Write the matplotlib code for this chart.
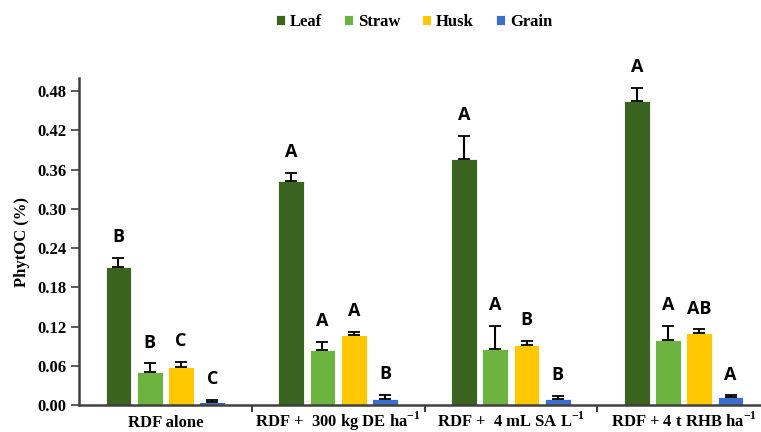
import matplotlib
matplotlib.use("Agg")
import matplotlib.pyplot as plt
import numpy as np

plt.rcParams['mathtext.fontset'] = 'custom'
plt.rcParams['mathtext.rm'] = 'Liberation Serif:bold'
plt.rcParams['mathtext.bf'] = 'Liberation Serif:bold'

categories = ['RDF alone',
              r'RDF +  300 kg DE ha$^{\mathbf{-1}}$',
              r'RDF +  4 mL SA L$^{\mathbf{-1}}$',
              r'RDF + 4 t RHB ha$^{\mathbf{-1}}$']
series = ['Leaf', 'Straw', 'Husk', 'Grain']
leaf = [0.212, 0.343, 0.376, 0.465]
straw = [0.051, 0.085, 0.086, 0.100]
husk = [0.059, 0.107, 0.092, 0.110]
grain = [0.005, 0.009, 0.010, 0.012]
leaf_err = [0.013, 0.012, 0.035, 0.020]
straw_err = [0.013, 0.012, 0.035, 0.021]
husk_err = [0.007, 0.005, 0.006, 0.006]
grain_err = [0.003, 0.007, 0.004, 0.003]
leaf_lab = ['B', 'A', 'A', 'A']
straw_lab = ['B', 'A', 'A', 'A']
husk_lab = ['C', 'A', 'B', 'AB']
grain_lab = ['C', 'B', 'B', 'A']
yticks = [0.00, 0.06, 0.12, 0.18, 0.24, 0.30, 0.36, 0.42, 0.48]

colors = ['#3B6320', '#6DB33F', '#FFC800', '#3A6FD0']
values = [leaf, straw, husk, grain]
errs = [leaf_err, straw_err, husk_err, grain_err]
labs = [leaf_lab, straw_lab, husk_lab, grain_lab]

W, H = 761, 432
fig = plt.figure(figsize=(W/100, H/100), dpi=100)
ax = fig.add_axes([79/W, (H-405.3)/H, (770-79)/W, (405.3-78)/H])

x = np.arange(len(categories))
spacing = 0.181
width = 0.148
offsets = (np.arange(4) - 1.5) * spacing
for i in range(4):
    xs = x + offsets[i]
    ax.bar(xs, values[i], width=width, color=colors[i], edgecolor='white',
           linewidth=0.6, label=series[i], zorder=2)
    ax.errorbar(xs, values[i], yerr=[np.zeros(4), errs[i]], fmt='none',
                ecolor='black', elinewidth=1.5, capsize=4, capthick=1.3, zorder=3)
    for j in range(4):
        top = values[i][j] + errs[i][j]
        ax.annotate(labs[i][j], (xs[j], top), xytext=(0, 15), textcoords='offset points',
                    ha='center', va='center', fontsize=13, fontweight='bold',
                    family='Open Sans', color='black')

ax.set_xlim(-0.5, 3.5)
ax.set_ylim(0, 0.50)
ax.set_yticks(yticks)
ax.set_yticklabels([f'{v:.2f}' for v in yticks], family='Liberation Serif',
                   fontweight='bold', fontsize=12)
ax.set_xticks([])
for xi, lab in zip(x, categories):
    ax.annotate(lab, xy=(xi, 0), xycoords=('data', 'axes fraction'),
                xytext=(0, -15.5), textcoords='offset points',
                ha='center', va='baseline', family='Liberation Serif',
                fontweight='bold', fontsize=12, annotation_clip=False)
ax.set_xticks([0.5, 1.5, 2.5], minor=True)
ax.tick_params(axis='x', which='minor', length=5, width=1.5, color='#404040', direction='out')
ax.tick_params(axis='y', length=6, width=1.2, color='#404040', pad=3)
for s in ['top', 'right']:
    ax.spines[s].set_visible(False)
for s in ['left', 'bottom']:
    ax.spines[s].set_color('#404040')
    ax.spines[s].set_linewidth(1.8)
ax.set_ylabel('PhytOC (%)', family='Liberation Serif', fontweight='bold', fontsize=12, labelpad=5)

leg = fig.legend(loc='center', bbox_to_anchor=(414/W, 1-22/H), ncol=4, frameon=False,
                 handlelength=0.55, handleheight=0.55, handletextpad=0.3, columnspacing=1.3,
                 prop={'family': 'Liberation Serif', 'weight': 'bold', 'size': 12})

fig.savefig('out.png', dpi=100)
